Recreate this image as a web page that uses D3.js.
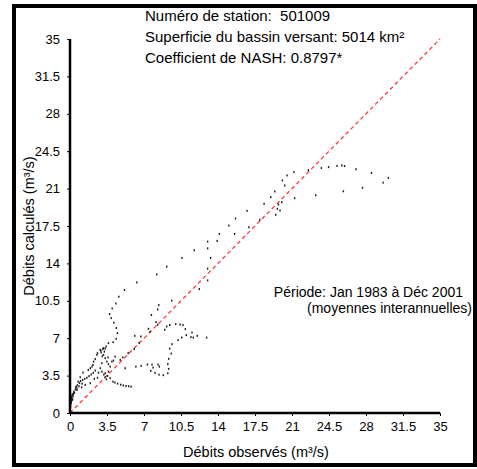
<!DOCTYPE html>
<html>
<head>
<meta charset="utf-8">
<script src="https://cdn.jsdelivr.net/npm/d3@7"></script>
<style>
  body { margin: 0; background: #fff; }
  svg text { font-family: "Liberation Sans", Arial, sans-serif; fill: #000; }
</style>
</head>
<body>
<div id="graphic"></div>
<script>
var obsFlow = [20.53,20.09,20.31,19.37,18.99,18.36,16.75,15.66,15.03,14.13,13.02,11.75,10.59,9.15,8.21,6.32,5.15,4.62,4.34,3.99,3.74,3.90,4.15,4.38,4.49,4.37,4.08,3.64,
  21.18,22.55,23.78,24.46,25.26,25.71,25.97,27.06,28.52,30.12,29.62,27.67,25.86,23.24,21.25,20.03,
  19.72,19.62,19.87,19.46,17.95,16.92,15.57,13.92,13.02,13.30,13.02,13.02,12.23,9.62,8.40,8.30,7.70,8.14,8.30,7.42,7.58,6.70,6.13,6.54,6.07,5.5,5.0,
  9.15,8.96,9.43,10.0,10.41,10.69,10.91,11.0,11.54,11.44,11.66,12.04,12.92,10.57,10.22,9.65,9.43,9.58,9.34,9.25,9.34,9.25,8.83,8.42,8.05,7.64,7.86,7.76,8.33,8.45,7.32,6.73,6.23,5.22,4.75,4.27,
  3.33,2.92,2.55,2.23,2.08,1.73,1.23,0.97,0.78,0.59,0.34,0.09,0.03,
  1.92,2.17,2.39,2.6,2.86,3.11,2.95,3.17,3.33,3.49,3.64,3.8,3.96,4.11,3.02,2.86,3.17,3.42,3.25,3.05,3.6,
  3.02,3.33,3.55,3.8,4.06,3.33,3.64,2.39,2.7,3.2,3.45,
  4.25,4.5,4.8,5.05,5.3,5.55,5.78,
  0.02,0.04,0.06,0.08,0.1,0.12,0.15,0.18,0.22,0.28,0.35,0.42,0.5,0.55,0.65,0.7,0.85,0.9,1.0,1.15,1.2,1.4,1.6,1.8,2.0,2.2,0.12,0.15,0.2,0.05,0.25,0.3,0.66,1.44,1.92,1.1,2.3,2.6];
var calcFlow = [22.23,21.76,21.29,20.73,20.20,19.58,18.92,18.20,17.54,16.76,16.04,15.23,14.51,13.70,12.97,12.22,11.51,10.88,10.25,9.78,9.26,8.88,8.45,7.95,7.48,6.94,6.63,6.54,
  22.54,22.73,22.92,23.01,23.12,23.17,23.11,22.81,22.47,22.0,21.56,21.08,20.75,20.38,20.10,19.73,
  19.51,19.11,18.95,18.55,18.08,17.38,16.76,16.11,15.41,14.51,13.51,12.41,11.60,10.51,10.10,9.69,9.17,8.51,8.26,7.88,7.60,7.16,7.22,6.54,5.98,5.6,5.2,
  8.10,7.79,8.23,8.32,8.28,8.23,7.85,7.29,7.53,7.10,7.06,7.22,7.06,7.06,6.82,6.44,6.03,5.56,5.07,4.57,4.13,3.72,3.54,3.59,3.75,3.94,4.25,4.53,4.53,4.34,4.53,4.41,4.34,4.19,4.97,5.28,
  6.03,5.84,5.44,4.81,4.34,4.03,3.78,3.35,2.94,2.47,1.85,1.22,0.91,
  4.19,4.5,5.04,5.6,5.91,5.98,5.66,5.44,5.13,4.81,4.57,4.34,4.81,4.91,4.66,4.19,6.07,6.22,5.75,5.3,5.2,
  3.87,3.72,3.47,3.26,2.94,3.35,3.87,3.97,3.78,3.6,3.15,
  2.85,2.75,2.65,2.58,2.52,2.5,2.47,
  0.5,0.7,0.85,1.0,1.15,1.3,1.45,1.6,1.75,1.55,2.0,1.9,2.2,2.4,2.15,2.6,2.5,2.8,3.0,2.75,3.1,3.2,3.3,3.45,3.6,3.75,0.95,1.15,1.35,0.6,1.25,1.7,2.3,2.63,2.79,2.4,3.2,3.3];
var tickValues = [0, 3.5, 7, 10.5, 14, 17.5, 21, 24.5, 28, 31.5, 35];
var infoLines = ["Numéro de station:\u00a0 501009", "Superficie du bassin versant: 5014 km²", "Coefficient de NASH: 0.8797*"];
var periodLines = ["Période: Jan 1983 à Déc 2001", "(moyennes interannuelles)"];

var width = 477, height = 469;
var margin = {top: 39, right: 37, bottom: 56, left: 70};

var svg = d3.select("#graphic").append("svg")
  .attr("width", width)
  .attr("height", height);

// outer frame
svg.append("rect")
  .attr("x", 14).attr("y", 6)
  .attr("width", 461).attr("height", 459)
  .attr("fill", "none").attr("stroke", "#000").attr("stroke-width", 4);

var x = d3.scaleLinear().domain([0, 35]).range([margin.left, width - margin.right]);
var y = d3.scaleLinear().domain([0, 35]).range([height - margin.bottom, margin.top]);

var points = obsFlow.map(function(d, i) { return {obs: d, calc: calcFlow[i]}; });

// 1:1 line
svg.append("line")
  .attr("x1", x(0)).attr("y1", y(0))
  .attr("x2", x(35)).attr("y2", y(35))
  .attr("stroke", "#ff3a3a")
  .attr("stroke-width", 1.3)
  .attr("stroke-dasharray", "4,3");

svg.append("g")
  .selectAll("rect")
  .data(points)
  .enter().append("rect")
    .attr("x", function(d) { return x(d.obs) - 0.7; })
    .attr("y", function(d) { return y(d.calc) - 1; })
    .attr("width", 1.4)
    .attr("height", 2)
    .attr("fill", "#1a1a1a");

// axes
var xAxis = svg.append("g")
  .attr("transform", "translate(0," + y(0) + ")")
  .call(d3.axisBottom(x).tickValues(tickValues).tickSize(3).tickPadding(6).tickFormat(d3.format("")));
var yAxis = svg.append("g")
  .attr("transform", "translate(" + x(0) + ",0)")
  .call(d3.axisLeft(y).tickValues(tickValues).tickSize(3).tickPadding(7).tickFormat(d3.format("")));

[xAxis, yAxis].forEach(function(ax) {
  ax.select(".domain").remove();
  ax.selectAll("text").attr("font-size", 13).attr("font-family", "Liberation Sans, Arial, sans-serif").attr("fill", "#000");
  ax.selectAll(".tick line").attr("stroke", "#000");
});
svg.append("line")
  .attr("x1", x(0)).attr("x2", x(35)).attr("y1", y(0)).attr("y2", y(0))
  .attr("stroke", "#000").attr("stroke-width", 2.5);
svg.append("line")
  .attr("x1", x(0)).attr("x2", x(0)).attr("y1", y(0)).attr("y2", y(35))
  .attr("stroke", "#000").attr("stroke-width", 2.5);

// titles
svg.append("text")
  .attr("x", (x(0) + x(35)) / 2 + 1)
  .attr("y", 457)
  .attr("text-anchor", "middle")
  .attr("font-size", 14.5)
  .text("Débits observés (m³/s)");

svg.append("text")
  .attr("transform", "translate(34," + 226 + ") rotate(-90)")
  .attr("text-anchor", "middle")
  .attr("font-size", 14.5)
  .text("Débits calculés (m³/s)");

svg.selectAll(".info")
  .data(infoLines)
  .enter().append("text")
    .attr("class", "info")
    .attr("x", 145)
    .attr("y", function(d, i) { return 21 + i * 21; })
    .attr("font-size", 15)
    .text(function(d) { return d; });

svg.selectAll(".period")
  .data(periodLines)
  .enter().append("text")
    .attr("class", "period")
    .attr("x", function(d, i) { return i === 0 ? 463 : 472; })
    .attr("y", function(d, i) { return 297 + i * 16; })
    .attr("text-anchor", "end")
    .attr("font-size", 14)
    .text(function(d) { return d; });
</script>
</body>
</html>
